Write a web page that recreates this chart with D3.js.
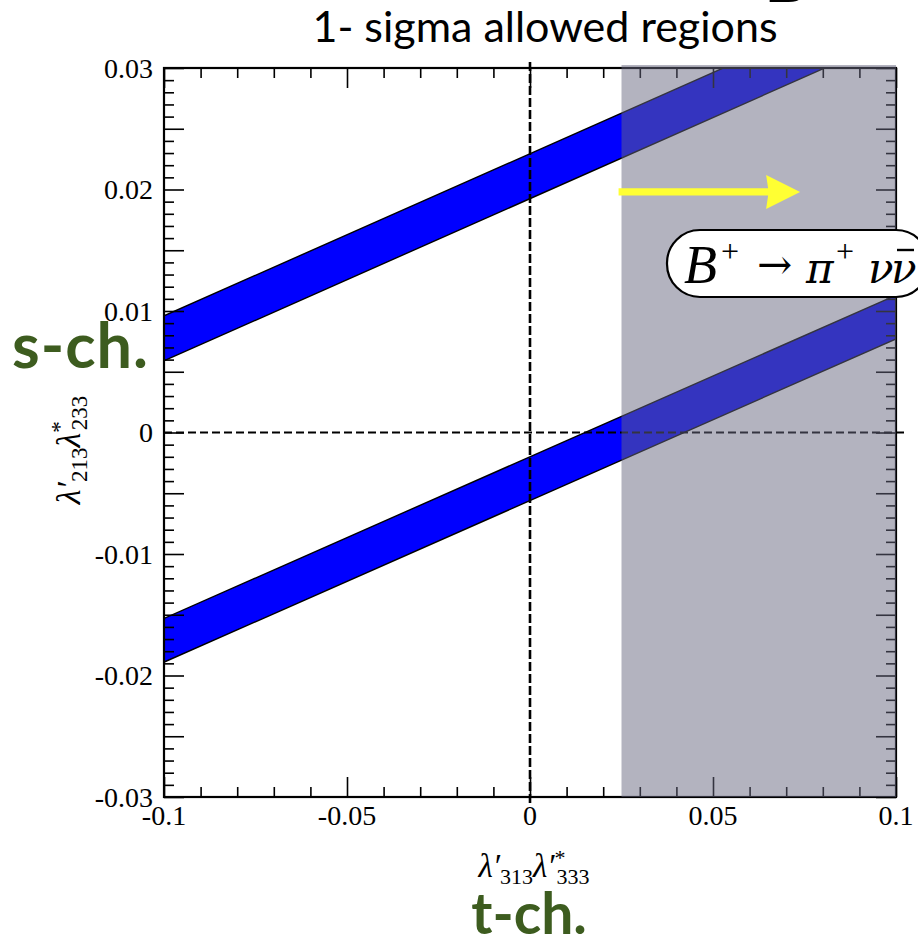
<!DOCTYPE html>
<html>
<head>
<meta charset="utf-8">
<script src="https://cdn.jsdelivr.net/npm/d3@7"></script>
<style>
  html, body { margin: 0; padding: 0; background: #ffffff; }
  svg { display: block; }
</style>
</head>
<body>
<svg id="chart" width="918" height="945"></svg>
<script>
// Axis ranges
const xDomain = [-0.1, 0.1];
const yDomain = [-0.03, 0.03];

// Tick labels
const xTickValues = [-0.1, -0.05, 0, 0.05, 0.1];
const xTickLabels = ["-0.1", "-0.05", "0", "0.05", "0.1"];
const yTickValues = [-0.03, -0.02, -0.01, 0, 0.01, 0.02, 0.03];
const yTickLabels = ["-0.03", "-0.02", "-0.01", "0", "0.01", "0.02", "0.03"];

// Allowed bands: edges given at the two ends of the x range
const bandX = [-0.1, 0.1];
const upperBandHigh = [0.0096, 0.0363];
const upperBandLow = [0.0059, 0.0326];
const lowerBandHigh = [-0.0153, 0.0113];
const lowerBandLow = [-0.0189, 0.0077];

// Region excluded by B+ -> pi+ nu nubar, and the arrow pointing into it
const excludedX = [0.025, 0.1];
const arrowX = [0.0242, 0.0738];
const arrowY = 0.0198;

const svg = d3.select("#chart");
const L = 164, R = 896, T = 68, B = 797;

const x = d3.scaleLinear().domain(xDomain).range([L, R]);
const y = d3.scaleLinear().domain(yDomain).range([B, T]);

svg.append("defs").append("clipPath").attr("id", "plotClip")
  .append("rect").attr("x", L).attr("y", T).attr("width", R - L).attr("height", B - T);

// Bands
const bands = [
  { hi: upperBandHigh, lo: upperBandLow },
  { hi: lowerBandHigh, lo: lowerBandLow }
];
const area = d3.area()
  .x(d => x(d.x)).y0(d => y(d.lo)).y1(d => y(d.hi));
const bandG = svg.append("g").attr("clip-path", "url(#plotClip)");
bands.forEach(b => {
  const pts = bandX.map((v, i) => ({ x: v, hi: b.hi[i], lo: b.lo[i] }));
  bandG.append("path").datum(pts)
    .attr("d", area)
    .attr("fill", "#0000ff")
    .attr("stroke", "#000")
    .attr("stroke-width", 1.4);
});

// Zero lines (dashed)
svg.append("line")
  .attr("x1", x(0)).attr("x2", x(0))
  .attr("y1", T - 6).attr("y2", B + 8)
  .attr("stroke", "#000").attr("stroke-width", 2.6)
  .attr("stroke-dasharray", "9,3");
svg.append("line")
  .attr("x1", L).attr("x2", R + 10)
  .attr("y1", y(0)).attr("y2", y(0))
  .attr("stroke", "#000").attr("stroke-width", 2.2)
  .attr("stroke-dasharray", "8,4");

// Frame ticks (inward on all four sides)
const yMinor = d3.range(-30, 31).map(v => v / 1000).filter(v => Math.round(v * 1000) % 5 !== 0);
const yMajor = d3.range(-30, 31, 5).map(v => v / 1000);
const xMinor = d3.range(-10, 11).map(v => v / 100).filter(v => Math.round(v * 100) % 5 !== 0);
const xMajor = d3.range(-10, 11, 5).map(v => v / 100);

function tickGroup(axis, transform) {
  const g = svg.append("g").attr("transform", transform).call(axis);
  g.select(".domain").remove();
  g.selectAll("text").remove();
  g.selectAll("line").attr("stroke", "#000").attr("stroke-width", 1.6);
  return g;
}
tickGroup(d3.axisLeft(y).tickValues(yMinor).tickSize(-10), `translate(${L},0)`);
tickGroup(d3.axisLeft(y).tickValues(yMajor).tickSize(-20), `translate(${L},0)`);
tickGroup(d3.axisRight(y).tickValues(yMinor).tickSize(-10), `translate(${R},0)`);
tickGroup(d3.axisRight(y).tickValues(yMajor).tickSize(-20), `translate(${R},0)`);
tickGroup(d3.axisBottom(x).tickValues(xMinor).tickSize(-10), `translate(0,${B})`);
tickGroup(d3.axisBottom(x).tickValues(xMajor).tickSize(-20), `translate(0,${B})`);
tickGroup(d3.axisTop(x).tickValues(xMinor).tickSize(-10), `translate(0,${T})`);
tickGroup(d3.axisTop(x).tickValues(xMajor).tickSize(-20), `translate(0,${T})`);

svg.append("rect")
  .attr("x", L).attr("y", T).attr("width", R - L).attr("height", B - T)
  .attr("fill", "none").attr("stroke", "#000").attr("stroke-width", 2.2);

// Tick labels
const serif = "'Liberation Serif', 'Times New Roman', serif";
svg.append("g").selectAll("text").data(yTickValues).join("text")
  .attr("x", L - 11).attr("y", d => y(d)).attr("dy", "0.34em")
  .attr("text-anchor", "end")
  .attr("font-family", serif).attr("font-size", 28)
  .text((d, i) => yTickLabels[i]);
svg.append("g").selectAll("text").data(xTickValues).join("text")
  .attr("x", d => x(d)).attr("y", B + 28)
  .attr("text-anchor", "middle")
  .attr("font-family", serif).attr("font-size", 28)
  .text((d, i) => xTickLabels[i]);

// Excluded region shading (translucent, over the bands and frame)
svg.append("rect")
  .attr("x", x(excludedX[0])).attr("y", T - 3)
  .attr("width", x(excludedX[1]) - x(excludedX[0])).attr("height", B - T + 3)
  .attr("fill", "rgb(104,104,128)").attr("fill-opacity", 0.5);

// Arrow
const ay = y(arrowY), ax0 = x(arrowX[0]), ax1 = x(arrowX[1]);
const headLen = 34, headHalf = 17, shaftHalf = 3.6;
svg.append("path")
  .attr("d", `M${ax0},${ay - shaftHalf} L${ax1 - headLen + 2},${ay - shaftHalf}
              L${ax1 - headLen},${ay - headHalf} L${ax1},${ay}
              L${ax1 - headLen},${ay + headHalf} L${ax1 - headLen + 2},${ay + shaftHalf}
              L${ax0},${ay + shaftHalf} Z`)
  .attr("fill", "#ffff33");

// Process label box: B+ -> pi+ nu nubar
svg.append("rect")
  .attr("x", 667).attr("y", 230).attr("width", 262).attr("height", 67)
  .attr("rx", 33).attr("ry", 33)
  .attr("fill", "#fff").attr("stroke", "#000").attr("stroke-width", 2.2);
const greek = "'DejaVu Serif', serif";
const procParts = [
  { t: "B", x: 684, y: 283, size: 54, font: serif, italic: true },
  { t: "+", x: 721, y: 262, size: 32, font: serif, italic: false },
  { t: "→", x: 757, y: 279, size: 42, font: greek, italic: false },
  { t: "π", x: 806, y: 283, size: 42, font: greek, italic: true },
  { t: "+", x: 836, y: 262, size: 32, font: serif, italic: false },
  { t: "ν", x: 868, y: 283, size: 42, font: greek, italic: true },
  { t: "ν", x: 891, y: 283, size: 42, font: greek, italic: true }
];
const procG = svg.append("g");
procParts.forEach(p => {
  procG.append("text")
    .attr("x", p.x).attr("y", p.y)
    .attr("font-family", p.font).attr("font-size", p.size)
    .attr("font-style", p.italic ? "italic" : "normal")
    .text(p.t);
});
// bar over the antineutrino
procG.append("line")
  .attr("x1", 897).attr("x2", 914).attr("y1", 250).attr("y2", 250)
  .attr("stroke", "#000").attr("stroke-width", 2.4);

// Axis titles
const ylab = svg.append("text")
  .attr("transform", "translate(80,450) rotate(-90)")
  .attr("text-anchor", "middle")
  .attr("font-family", serif).attr("font-size", 34);
ylab.append("tspan").attr("font-style", "italic").text("λ′");
ylab.append("tspan").attr("font-size", 23).attr("dy", 7).text("213");
ylab.append("tspan").attr("font-style", "italic").attr("dy", -7).text("λ");
ylab.append("tspan").attr("font-size", 23).attr("dy", -13).text("*");
ylab.append("tspan").attr("font-size", 23).attr("dx", -9).attr("dy", 20).text("233");

const xlab = svg.append("text")
  .attr("x", 534).attr("y", 877)
  .attr("text-anchor", "middle")
  .attr("font-family", serif).attr("font-size", 33);
xlab.append("tspan").attr("font-style", "italic").text("λ′");
xlab.append("tspan").attr("font-size", 22).attr("dy", 7).text("313");
xlab.append("tspan").attr("font-style", "italic").attr("dy", -7).text("λ′");
xlab.append("tspan").attr("font-size", 22).attr("dy", -12).text("*");
xlab.append("tspan").attr("font-size", 22).attr("dx", -9).attr("dy", 19).text("333");

// Title and channel labels
const sansFont = "Lato, 'Open Sans', sans-serif";
svg.append("text")
  .attr("x", 545).attr("y", 42).attr("text-anchor", "middle")
  .attr("font-family", sansFont).attr("font-size", 43)
  .attr("fill", "#000")
  .text("1- sigma allowed regions");
svg.append("text")
  .attr("x", 764).attr("y", 2)
  .attr("font-family", sansFont).attr("font-weight", 700).attr("font-size", 70)
  .text("B");

const green = "#3d5c1f";
svg.append("text")
  .attr("x", 12).attr("y", 368)
  .attr("font-family", sansFont).attr("font-weight", 700).attr("font-size", 63)
  .attr("letter-spacing", 1)
  .attr("fill", green)
  .text("s-ch.");
svg.append("text")
  .attr("x", 529).attr("y", 934).attr("text-anchor", "middle")
  .attr("font-family", sansFont).attr("font-weight", 700).attr("font-size", 57)
  .attr("fill", green)
  .text("t-ch.");
</script>
</body>
</html>
